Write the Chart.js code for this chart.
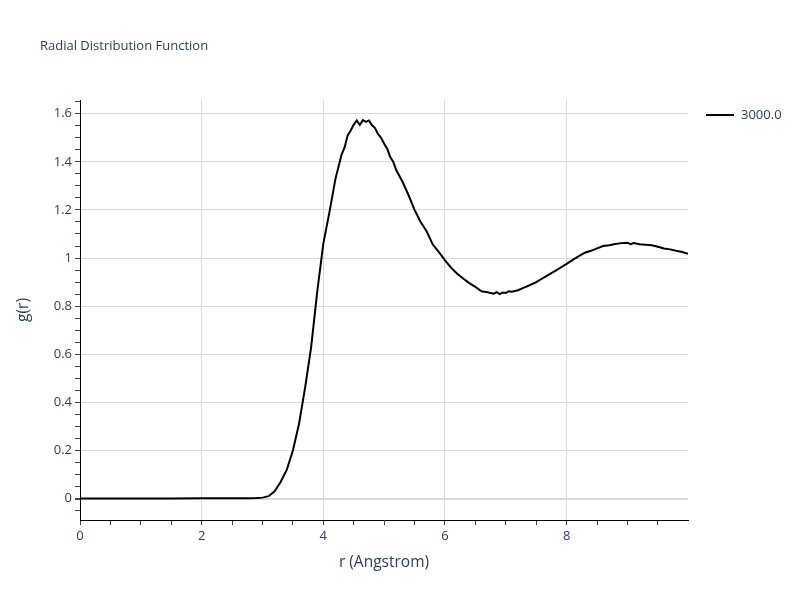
<!DOCTYPE html>
<html>
<head>
<meta charset="utf-8">
<script src="https://cdn.jsdelivr.net/npm/chart.js@4.4.1/dist/chart.umd.min.js"></script>
<style>
  html, body { margin: 0; padding: 0; background: #fff; }
  #wrap { position: relative; width: 800px; height: 600px; }
</style>
</head>
<body>
<div id="wrap"><canvas id="rdfChart" width="800" height="600"></canvas></div>
<script>
// g(r) values
const rValues = [0, 0.5, 1.0, 1.5, 2.0, 2.5, 2.8, 2.9, 3.0, 3.1, 3.2, 3.3, 3.4, 3.5, 3.6, 3.7, 3.8, 3.9,
  4.0, 4.1, 4.2, 4.3, 4.35, 4.4, 4.45, 4.5, 4.55, 4.6, 4.65, 4.7, 4.75, 4.8, 4.85, 4.9, 4.95, 5.0,
  5.05, 5.1, 5.15, 5.2, 5.3, 5.4, 5.5, 5.6, 5.7, 5.8, 5.9, 6.0, 6.1, 6.2, 6.3, 6.4, 6.5, 6.6, 6.7,
  6.8, 6.85, 6.9, 6.95, 7.0, 7.05, 7.1, 7.2, 7.3, 7.4, 7.5, 7.6, 7.7, 7.8, 7.9, 8.0, 8.1, 8.2, 8.3,
  8.4, 8.5, 8.6, 8.7, 8.8, 8.9, 9.0, 9.05, 9.1, 9.2, 9.3, 9.4, 9.5, 9.6, 9.7, 9.8, 9.9, 9.995];
const gValues = [0, 0, 0, 0, 0.001, 0.001, 0.001, 0.002, 0.004, 0.01, 0.03, 0.07, 0.12, 0.2, 0.31, 0.46, 0.63, 0.86,
  1.06, 1.19, 1.33, 1.43, 1.46, 1.51, 1.53, 1.555, 1.572, 1.553, 1.573, 1.566, 1.572, 1.552, 1.54, 1.515, 1.5, 1.475,
  1.455, 1.42, 1.4, 1.365, 1.318, 1.262, 1.2, 1.15, 1.11, 1.056, 1.025, 0.99, 0.96, 0.935, 0.915, 0.896, 0.88, 0.862, 0.858,
  0.852, 0.858, 0.85, 0.857, 0.855, 0.862, 0.86, 0.866, 0.877, 0.888, 0.9, 0.915, 0.93, 0.945, 0.96, 0.976, 0.992, 1.008, 1.022,
  1.03, 1.04, 1.05, 1.053, 1.058, 1.062, 1.064, 1.058, 1.062, 1.057, 1.055, 1.053, 1.047, 1.04, 1.036, 1.03, 1.025, 1.018];
const seriesName = '3000.0';
const chartTitle = 'Radial Distribution Function';
const xTickLabels = [0, 2, 4, 6, 8];
const yTickLabels = [0, 0.2, 0.4, 0.6, 0.8, 1, 1.2, 1.4, 1.6];

const textColor = '#2a3f5f';
const gridColor = '#dadada';
const fontFamily = '"Open Sans", verdana, arial, sans-serif';

const isMajor = (v, list) => list.some(t => Math.abs(t - v) < 1e-6);

// title and legend drawn at fixed spots like the plotly layout
const overlayPlugin = {
    id: 'overlay',
    afterDraw(chart) {
        const c = chart.ctx;
        c.save();
        c.fillStyle = textColor;
        c.textBaseline = 'middle';
        c.textAlign = 'left';
        c.font = '13px ' + fontFamily;
        c.fillText(chartTitle, 40, 46);

        c.strokeStyle = '#000';
        c.lineWidth = 2;
        c.beginPath();
        c.moveTo(706, 115);
        c.lineTo(734, 115);
        c.stroke();
        c.fillText(seriesName, 741, 115);
        c.restore();
    }
};

const ctx = document.getElementById('rdfChart').getContext('2d');
new Chart(ctx, {
    type: 'line',
    data: {
        datasets: [{
            label: seriesName,
            data: rValues.map((r, i) => ({ x: r, y: gValues[i] })),
            borderColor: '#000',
            borderWidth: 2,
            pointRadius: 0,
            tension: 0,
            fill: false
        }]
    },
    options: {
        responsive: false,
        animation: false,
        layout: { padding: { top: 100, right: 112, left: 0, bottom: 0 } },
        plugins: {
            legend: { display: false },
            title: { display: false },
            tooltip: { enabled: false }
        },
        scales: {
            x: {
                type: 'linear',
                min: 0,
                max: 9.995,
                afterFit: s => { s.height = 80; },
                border: { color: '#000', width: 1 },
                grid: {
                    color: c => (c.tick && isMajor(c.tick.value, xTickLabels) && c.tick.value !== 0) ? gridColor : 'rgba(0,0,0,0)',
                    tickColor: '#444',
                    tickLength: 5,
                    drawTicks: true
                },
                ticks: {
                    stepSize: 0.5,
                    includeBounds: false,
                    autoSkip: false,
                    maxRotation: 0,
                    padding: 3,
                    color: textColor,
                    font: { family: fontFamily, size: 13 },
                    callback: v => isMajor(v, xTickLabels) ? String(v) : ''
                },
                title: {
                    display: true,
                    text: 'r (Angstrom)',
                    color: textColor,
                    font: { family: fontFamily, size: 15.5 },
                    padding: { top: 0, bottom: 28 }
                }
            },
            y: {
                type: 'linear',
                min: -0.089,
                max: 1.657,
                afterFit: s => { s.width = 80; },
                border: { color: '#000', width: 1 },
                grid: {
                    color: c => (c.tick && isMajor(c.tick.value, yTickLabels)) ? gridColor : 'rgba(0,0,0,0)',
                    lineWidth: c => (c.tick && Math.abs(c.tick.value) < 1e-6) ? 2 : 1,
                    tickColor: '#444',
                    tickLength: 5,
                    drawTicks: true
                },
                ticks: {
                    stepSize: 0.05,
                    includeBounds: false,
                    autoSkip: false,
                    padding: 3,
                    color: textColor,
                    font: { family: fontFamily, size: 13 },
                    callback: v => isMajor(v, yTickLabels) ? String(Math.round(v * 10) / 10) : ''
                },
                title: {
                    display: true,
                    text: 'g(r)',
                    color: textColor,
                    font: { family: fontFamily, size: 15.5 },
                    padding: { top: 14, bottom: 0 }
                }
            }
        }
    },
    plugins: [overlayPlugin]
});
</script>
</body>
</html>
